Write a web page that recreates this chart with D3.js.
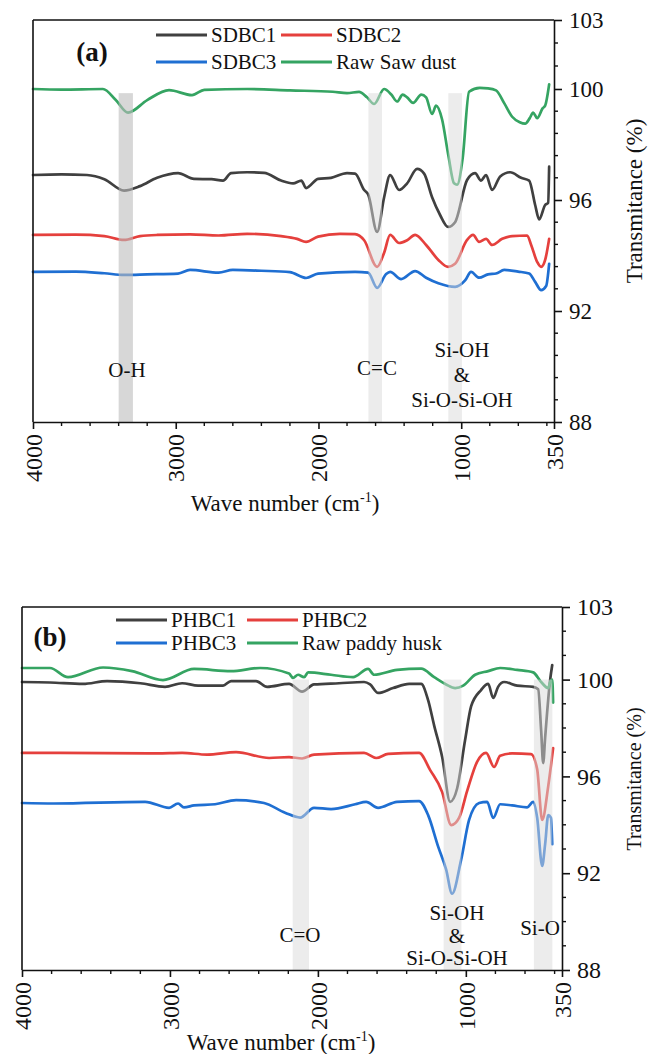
<!DOCTYPE html>
<html><head><meta charset="utf-8">
<script src="https://cdn.jsdelivr.net/npm/d3@7"></script>
<style>
body{margin:0;background:#fff}
svg{display:block;background:#fff}
text{font-family:"Liberation Serif","Times New Roman",serif;fill:#111}
</style>
</head><body>
<svg id="chart" width="648" height="1054"></svg>
<script>
// ---------------- DATA ----------------
const xTickValues = [4000, 3000, 2000, 1000, 350];
const yTickValuesA = [88, 92, 96, 100, 103];
const yTickValuesB = [88, 92, 96, 100, 103];

const namesA = ["SDBC1", "SDBC2", "SDBC3", "Raw Saw dust"];
const namesB = ["PHBC1", "PHBC2", "PHBC3", "Raw paddy husk"];
const seriesColors = ["#404040", "#e5403d", "#1f6fd2", "#35a462"];

// Panel (a): [wavenumber cm-1, transmittance %]
const sdbc1 = [[4000,96.9],[3800,96.92],[3622,96.9],[3500,96.75],[3362,96.34],[3250,96.5],[3131,96.8],[2984,96.97],[2872,96.76],[2750,96.75],[2669,96.7],[2612,96.97],[2500,97.0],[2381,96.98],[2262,96.7],[2178,96.6],[2120,96.7],[2087,96.43],[2003,96.76],[1912,96.8],[1800,96.97],[1744,96.95],[1680,96.36],[1652,96.2],[1589,94.85],[1540,96.1],[1498,96.9],[1435,96.36],[1379,96.6],[1309,97.12],[1260,96.95],[1204,96.1],[1148,95.46],[1092,95.03],[1043,95.2],[959,96.72],[903,96.97],[861,96.7],[826,96.9],[784,96.36],[727,96.85],[657,97.0],[580,96.8],[524,96.7],[482,95.82],[454,95.3],[412,95.82],[391,95.9],[384,97.2]];
const sdbc2 = [[4000,94.74],[3700,94.75],[3500,94.7],[3362,94.56],[3250,94.7],[3131,94.74],[2900,94.76],[2700,94.72],[2500,94.78],[2262,94.7],[2150,94.6],[2087,94.49],[2003,94.68],[1850,94.78],[1744,94.77],[1680,94.55],[1589,93.59],[1540,94.1],[1498,94.74],[1435,94.45],[1379,94.55],[1323,94.74],[1246,94.38],[1160,93.84],[1092,93.59],[1043,93.7],[959,94.56],[917,94.74],[875,94.49],[826,94.6],[784,94.38],[713,94.6],[643,94.7],[538,94.72],[510,94.38],[468,93.77],[440,93.59],[412,93.84],[384,94.6]];
const sdbc3 = [[4000,93.41],[3700,93.42],[3500,93.36],[3362,93.3],[3200,93.32],[2984,93.35],[2900,93.48],[2700,93.38],[2600,93.48],[2400,93.45],[2200,93.4],[2087,93.19],[2003,93.35],[1744,93.41],[1652,93.38],[1589,92.83],[1526,93.33],[1498,93.41],[1421,93.15],[1323,93.44],[1246,93.2],[1160,93.0],[1043,92.87],[973,93.1],[931,93.41],[875,93.2],[812,93.32],[756,93.35],[699,93.48],[601,93.42],[524,93.35],[482,93.05],[440,92.75],[405,92.9],[384,93.7]];
const rawSawDust = [[4000,100],[3800,99.98],[3510,100],[3420,99.6],[3334,99.15],[3200,99.6],[3047,99.96],[2886,99.78],[2800,99.97],[2500,100],[2200,99.95],[1900,99.9],[1800,99.85],[1716,99.9],[1660,99.7],[1610,99.46],[1540,100],[1490,99.8],[1449,99.55],[1410,99.8],[1379,99.7],[1337,99.5],[1280,99.8],[1246,99.7],[1204,99.1],[1176,99.4],[1134,98.9],[1090,97.6],[1050,96.6],[1029,96.55],[990,97.5],[945,99.9],[870,100.05],[812,100.03],[756,99.95],[700,99.5],[643,99.0],[590,98.8],[552,98.75],[520,98.95],[496,99.15],[468,98.95],[430,99.3],[412,99.4],[384,100.2]];

// Panel (b)
const phbc1 = [[4000,99.9],[3811,99.88],[3588,99.82],[3425,99.94],[3200,99.85],[3033,99.7],[2918,99.85],[2810,99.75],[2641,99.75],[2587,99.94],[2418,99.94],[2343,99.7],[2195,99.82],[2107,99.5],[2026,99.8],[1857,99.85],[1688,99.9],[1647,99.8],[1593,99.45],[1492,99.65],[1383,99.82],[1302,99.82],[1255,99.15],[1214,98.1],[1160,96.8],[1106,94.95],[1059,95.5],[1005,97.5],[964,98.9],[897,99.57],[849,99.82],[815,99.24],[782,99.7],[741,99.9],[653,99.75],[545,99.7],[511,99.6],[491,97.9],[477,96.55],[464,97.6],[430,100.0],[416,100.6]];
const phbc2 = [[4000,96.97],[3800,96.97],[3087,96.95],[2918,96.97],[2749,96.9],[2553,97.0],[2330,96.76],[2195,96.8],[2107,96.74],[2026,96.9],[1688,96.97],[1606,96.76],[1525,96.93],[1316,96.97],[1241,96.26],[1160,95.35],[1099,93.99],[1045,94.3],[991,95.4],[924,96.6],[863,96.97],[809,96.39],[768,96.85],[687,96.95],[559,96.92],[518,96.3],[484,94.2],[443,95.6],[410,97.17]];
const phbc3 = [[4000,94.9],[3784,94.88],[3168,94.95],[3006,94.7],[2945,94.88],[2905,94.72],[2837,94.8],[2695,94.85],[2553,95.02],[2364,94.9],[2222,94.5],[2120,94.3],[2026,94.7],[1911,94.65],[1748,94.85],[1674,94.95],[1593,94.7],[1465,94.95],[1316,94.98],[1255,94.4],[1187,93.1],[1133,92.15],[1093,91.15],[1032,92.55],[978,94.2],[910,94.9],[856,94.95],[815,94.28],[768,94.85],[687,94.8],[586,94.72],[545,94.95],[518,94.3],[484,92.3],[464,93.2],[443,94.4],[425,94.3],[416,93.2]];
const rawPaddyHusk = [[4000,100.48],[3811,100.48],[3689,100.1],[3452,100.5],[3256,100.35],[3047,99.98],[2837,100.44],[2587,100.35],[2391,100.48],[2195,100.25],[2168,100.07],[2134,100.2],[2093,100.1],[2066,100.3],[1911,100.2],[1762,100.1],[1661,100.44],[1620,100.2],[1465,100.4],[1302,100.45],[1214,100.1],[1133,99.8],[1072,99.65],[1018,99.75],[937,100.2],[849,100.35],[768,100.48],[653,100.4],[545,100.3],[491,99.9],[443,99.65],[430,99.9],[416,100.0],[410,99.05]];

// Highlight bands [from, to] cm-1 and annotations
const bandsA = [[3400, 3300], [1650, 1555], [1090, 995]];
const bandsB = [[2170, 2060], [1150, 1030], [540, 415]];
const bandTopA = 99.85, bandTopB = 100;
const annotA = [["O-H"], ["C=C"], ["Si-OH", "&", "Si-O-Si-OH"]];
const annotB = [["C=O"], ["Si-OH", "&", "Si-O-Si-OH"], ["Si-O"]];

// ---------------- DRAW ----------------
const svg = d3.select("#chart");

function drawPanel(p) {
  const x = d3.scaleLinear().domain([4000, 350]).range([p.left, p.right]);
  const y = d3.scaleLinear().domain(p.yDomain).range(p.yRange);
  const g = svg.append("g");
  const yBottom = y(88), yTop = y(103);

  const line = d3.line().x(d => x(d[0])).y(d => y(d[1])).curve(d3.curveMonotoneX);
  p.series.forEach((s, i) => {
    g.append("path").attr("d", line(s)).attr("fill", "none")
      .attr("stroke", seriesColors[i]).attr("stroke-width", 2.7)
      .attr("stroke-linejoin", "round").attr("stroke-linecap", "round");
  });

  p.bands.forEach((b, i) => {
    const st = p.bandStyle[i];
    g.append("rect").attr("x", x(b[0])).attr("width", x(b[1]) - x(b[0]))
      .attr("y", y(p.bandTop)).attr("height", yBottom - y(p.bandTop))
      .attr("fill", st[0]).attr("fill-opacity", st[1]);
  });

  // frame top & left
  g.append("line").attr("x1", p.left).attr("x2", p.right).attr("y1", yTop).attr("y2", yTop)
    .attr("stroke", "#111").attr("stroke-width", 1.6);
  g.append("line").attr("x1", p.left).attr("x2", p.left).attr("y1", yTop).attr("y2", yBottom)
    .attr("stroke", "#111").attr("stroke-width", 1.6);

  // bottom axis
  const xa = g.append("g").attr("transform", `translate(0,${yBottom})`)
    .call(d3.axisBottom(x).tickValues(xTickValues).tickSize(7).tickSizeOuter(0).tickFormat(d3.format("d")));
  xa.select(".domain").attr("stroke", "#111").attr("stroke-width", 1.6);
  xa.selectAll(".tick line").attr("stroke", "#111").attr("stroke-width", 1.6);
  xa.selectAll(".tick text").attr("transform", "rotate(-90)").attr("text-anchor", "end")
    .attr("x", -12).attr("y", 0).attr("dy", "0.34em")
    .attr("font-size", 24).attr("font-family", "Liberation Serif").attr("fill", "#111");
  const xMinor = d3.range(3800, 350, -200).filter(v => !xTickValues.includes(v));
  xa.selectAll(".minor").data(xMinor).enter().append("line")
    .attr("x1", d => x(d)).attr("x2", d => x(d)).attr("y1", 0).attr("y2", 4)
    .attr("stroke", "#111").attr("stroke-width", 1.4);

  // right axis
  const ya = g.append("g").attr("transform", `translate(${p.right},0)`)
    .call(d3.axisRight(y).tickValues(p.yTicks).tickSize(8).tickPadding(7).tickSizeOuter(0).tickFormat(d3.format("d")));
  ya.select(".domain").attr("stroke", "#111").attr("stroke-width", 1.6);
  ya.selectAll(".tick line").attr("stroke", "#111").attr("stroke-width", 1.6);
  ya.selectAll(".tick text").attr("font-size", p.yTickFont).attr("font-family", "Liberation Serif").attr("fill", "#111");
  ya.selectAll(".minor").data(p.yMinor).enter().append("line")
    .attr("x1", 0).attr("x2", 4).attr("y1", d => y(d)).attr("y2", d => y(d))
    .attr("stroke", "#111").attr("stroke-width", 1.4);

  // axis titles
  const t = g.append("text").attr("x", p.xTitle[0]).attr("y", p.xTitle[1])
    .attr("text-anchor", "middle").attr("font-size", 23);
  t.append("tspan").text("Wave number (cm");
  t.append("tspan").attr("dy", -9).attr("font-size", 14).text("-1");
  t.append("tspan").attr("dy", 9).text(")");
  g.append("text").attr("transform", `translate(${p.yTitle[0]},${p.yTitle[1]}) rotate(-90)`)
    .attr("text-anchor", "middle").attr("font-size", p.yTitleFont).text("Transmitance (%)");

  // panel tag
  g.append("text").attr("x", p.tag[0]).attr("y", p.tag[1]).attr("font-size", 27)
    .attr("font-weight", "bold").attr("text-anchor", "middle").text(p.tagText);

  // legend
  p.names.forEach((n, i) => {
    const col = i % 2, row = Math.floor(i / 2);
    const lx = p.legend.x[col], ly = p.legend.y[row];
    g.append("line").attr("x1", lx).attr("x2", lx + p.legend.len).attr("y1", ly).attr("y2", ly)
      .attr("stroke", seriesColors[i]).attr("stroke-width", 3.2);
    g.append("text").attr("x", lx + p.legend.len + 4).attr("y", ly).attr("dy", "0.35em")
      .attr("font-size", 21).text(n);
  });

  // annotations
  p.annot.forEach((lines, i) => {
    const [ax, ay] = p.annotPos[i];
    lines.forEach((s, k) => {
      g.append("text").attr("x", ax).attr("y", ay + k * p.annotGap).attr("dy", "0.35em")
        .attr("text-anchor", "middle").attr("font-size", 21).text(s);
    });
  });
}

drawPanel({
  left: 33, right: 554,
  yDomain: [88, 100, 103], yRange: [422, 89, 20],
  yTicks: yTickValuesA, yTickFont: 23,
  yMinor: d3.range(88.8, 100, 0.8).filter(v => Math.abs(v - Math.round(v)) > 0.05 || Math.round(v) % 4 !== 0).concat([101, 102]),
  series: [sdbc1, sdbc2, sdbc3, rawSawDust],
  names: namesA,
  bands: bandsA, bandTop: bandTopA,
  bandStyle: [["#bdbdbd", 0.6], ["#d9d9d9", 0.5], ["#d9d9d9", 0.5]],
  xTitle: [285, 511], yTitle: [642, 201], yTitleFont: 23,
  tag: [92, 61], tagText: "(a)",
  legend: { x: [156, 281], y: [35, 62], len: 51 },
  annot: annotA, annotPos: [[127, 370], [377, 368], [462, 350]], annotGap: 25
});

drawPanel({
  left: 22, right: 562,
  yDomain: [88, 103], yRange: [970, 607],
  yTicks: yTickValuesB, yTickFont: 24,
  yMinor: d3.range(89, 103, 1).filter(v => ![92, 96, 100].includes(v)),
  series: [phbc1, phbc2, phbc3, rawPaddyHusk],
  names: namesB,
  bands: bandsB, bandTop: bandTopB,
  bandStyle: [["#d9d9d9", 0.5], ["#d9d9d9", 0.5], ["#d9d9d9", 0.5]],
  xTitle: [281, 1050], yTitle: [641, 779], yTitleFont: 20,
  tag: [50, 646], tagText: "(b)",
  legend: { x: [116, 247], y: [620, 643], len: 51 },
  annot: annotB, annotPos: [[300, 935], [457, 913], [540, 928]], annotGap: 22.5
});
</script>
</body></html>
